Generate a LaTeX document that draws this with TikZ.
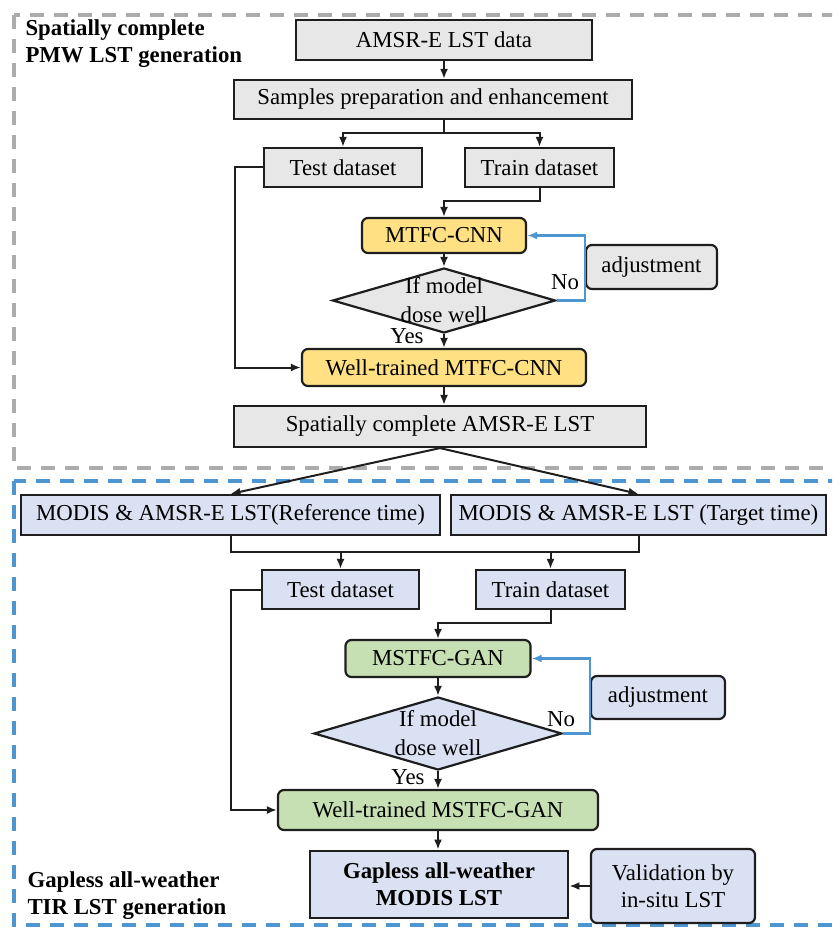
\documentclass[tikz,border=0pt]{standalone}
\usepackage{fontspec}
\setmainfont{Liberation Serif}
\usetikzlibrary{arrows.meta,positioning,shapes.geometric}
\definecolor{boxgray}{RGB}{231,231,231}
\definecolor{boxyellow}{RGB}{255,224,130}
\definecolor{boxgreen}{RGB}{198,224,180}
\definecolor{boxblue}{RGB}{217,225,242}
\definecolor{loopblue}{RGB}{78,150,210}
\definecolor{framegray}{RGB}{172,172,172}
\definecolor{edgedark}{RGB}{30,30,30}
\begin{document}
\begin{tikzpicture}[x=1pt,y=-1pt,>=Latex,
  font=\fontsize{22.8}{27}\selectfont,
  box/.style={draw=edgedark,line width=2.2pt,inner sep=0pt,align=center},
  rbox/.style={box,rounded corners=6pt},
  dia/.style={draw=edgedark,line width=2.2pt,shape=diamond,inner sep=0pt},
  arr/.style={-{Latex[length=10pt,width=8pt]},line width=2pt,edgedark},
  looparr/.style={-{Latex[length=10pt,width=8pt]},line width=2.4pt,loopblue},
  frame/.style={line width=3.8pt,dash pattern=on 14pt off 10pt}]
\clip (0,0) rectangle (832,928);
% frames
\draw[frame,framegray] (14,15) rectangle (860,468);
\draw[frame,loopblue] (14,481) rectangle (860,925);
\node[anchor=north west,align=left,font=\fontsize{22.8}{27}\selectfont\bfseries] (lbltop) at (22,16) {Spatially complete\\PMW LST generation};
\node[anchor=north west,align=left,font=\fontsize{22.8}{27}\selectfont\bfseries] (lblbot) at (24,868) {Gapless all-weather\\TIR LST generation};
% upper part
\node[box,fill=boxgray,minimum width=296,minimum height=40] (amsr) at (444,40) {AMSR-E LST data};
\node[box,fill=boxgray,minimum width=398,minimum height=39] (samp) at (433,99.5) {Samples preparation and enhancement};
\node[box,fill=boxgray,minimum width=158,minimum height=39] (testa) at (343,167.5) {Test dataset};
\node[box,fill=boxgray,minimum width=149,minimum height=39] (traina) at (539.5,167.5) {Train dataset};
\node[rbox,fill=boxyellow,minimum width=164,minimum height=35] (mtfc) at (444,235.5) {MTFC-CNN};
\node[dia,fill=boxgray,minimum width=223,minimum height=65,label={[align=center,font=\fontsize{22.8}{29}\selectfont]center:If model\\dose well}] (diaa) at (444,300.5) {};
\node[rbox,fill=boxgray,minimum width=131,minimum height=44] (adja) at (651.5,267) {adjustment};
\node[rbox,fill=boxyellow,minimum width=284,minimum height=37] (wella) at (444,367.5) {Well-trained MTFC-CNN};
\node[box,fill=boxgray,minimum width=412,minimum height=41] (spat) at (440,426.5) {Spatially complete AMSR-E LST};
\node (noa) at (565,282) {No};
\node (yesa) at (407,336) {Yes};
\coordinate (bra) at (444,133);
\draw[arr] (amsr.south) -- (amsr.south |- samp.north);
\draw[line width=2pt,edgedark] (samp.south -| bra) -- (bra);
\draw[arr] (bra) -| (testa.north);
\draw[arr] (bra) -| (traina.north);
\draw[arr] (traina.south) -- ++(0,13) -| (mtfc.north);
\draw[arr] (testa.west) -- ++(-28,0) |- (wella.west);
\draw[arr] (mtfc.south) -- (diaa.north);
\draw[arr] (diaa.south) -- (wella.north);
\draw[looparr] (diaa.east) -- (adja.west |- diaa.east) -- (adja.west |- mtfc.east) -- (mtfc.east);
\draw[arr] (wella.south) -- (wella.south |- spat.north);
% lower part
\node[box,fill=boxblue,minimum width=419,minimum height=40] (modref) at (230.5,515) {MODIS \& AMSR-E LST(Reference time)};
\node[box,fill=boxblue,minimum width=375,minimum height=40] (modtgt) at (638.5,515) {MODIS \& AMSR-E LST (Target time)};
\node[box,fill=boxblue,minimum width=157,minimum height=39] (testb) at (340.5,589.5) {Test dataset};
\node[box,fill=boxblue,minimum width=149,minimum height=39] (trainb) at (550.5,589.5) {Train dataset};
\node[rbox,fill=boxgreen,minimum width=185,minimum height=37] (mstfc) at (438,658.5) {MSTFC-GAN};
\node[dia,fill=boxblue,minimum width=248,minimum height=73,label={[align=center,font=\fontsize{22.8}{29}\selectfont]center:If model\\dose well}] (diab) at (438,733.5) {};
\node[rbox,fill=boxblue,minimum width=134,minimum height=43] (adjb) at (658,697.5) {adjustment};
\node[rbox,fill=boxgreen,minimum width=320,minimum height=40] (wellb) at (438,810) {Well-trained MSTFC-GAN};
\node[box,fill=boxblue,line width=2.8pt,minimum width=258,minimum height=67,font=\fontsize{22.8}{27}\selectfont\bfseries] (gap) at (439,884.5) {Gapless all-weather\\MODIS LST};
\node[rbox,fill=boxblue,minimum width=164,minimum height=74] (valid) at (673,886) {Validation by\\in-situ LST};
\node (nob) at (561,719) {No};
\node (yesb) at (408,777) {Yes};
\coordinate (brb) at (440,552);
\draw[arr] (spat.south) -- (modref.north);
\draw[arr] (spat.south) -- (modtgt.north);
\draw[line width=2pt,edgedark] (modref.south) |- (brb) -| (modtgt.south);
\draw[arr] (testb.north |- brb) -- (testb.north);
\draw[arr] (trainb.north |- brb) -- (trainb.north);
\draw[arr] (trainb.south) -- ++(0,13) -| (mstfc.north);
\draw[arr] (testb.west) -- ++(-30,0) |- (wellb.west);
\draw[arr] (mstfc.south) -- (diab.north);
\draw[arr] (diab.south) -- (wellb.north);
\draw[looparr] (diab.east) -- (adjb.west |- diab.east) -- (adjb.west |- mstfc.east) -- (mstfc.east);
\draw[arr] (wellb.south) -- (wellb.south |- gap.north);
\draw[arr] (valid.west) -- (valid.west -| gap.east);
\end{tikzpicture}
\end{document}
